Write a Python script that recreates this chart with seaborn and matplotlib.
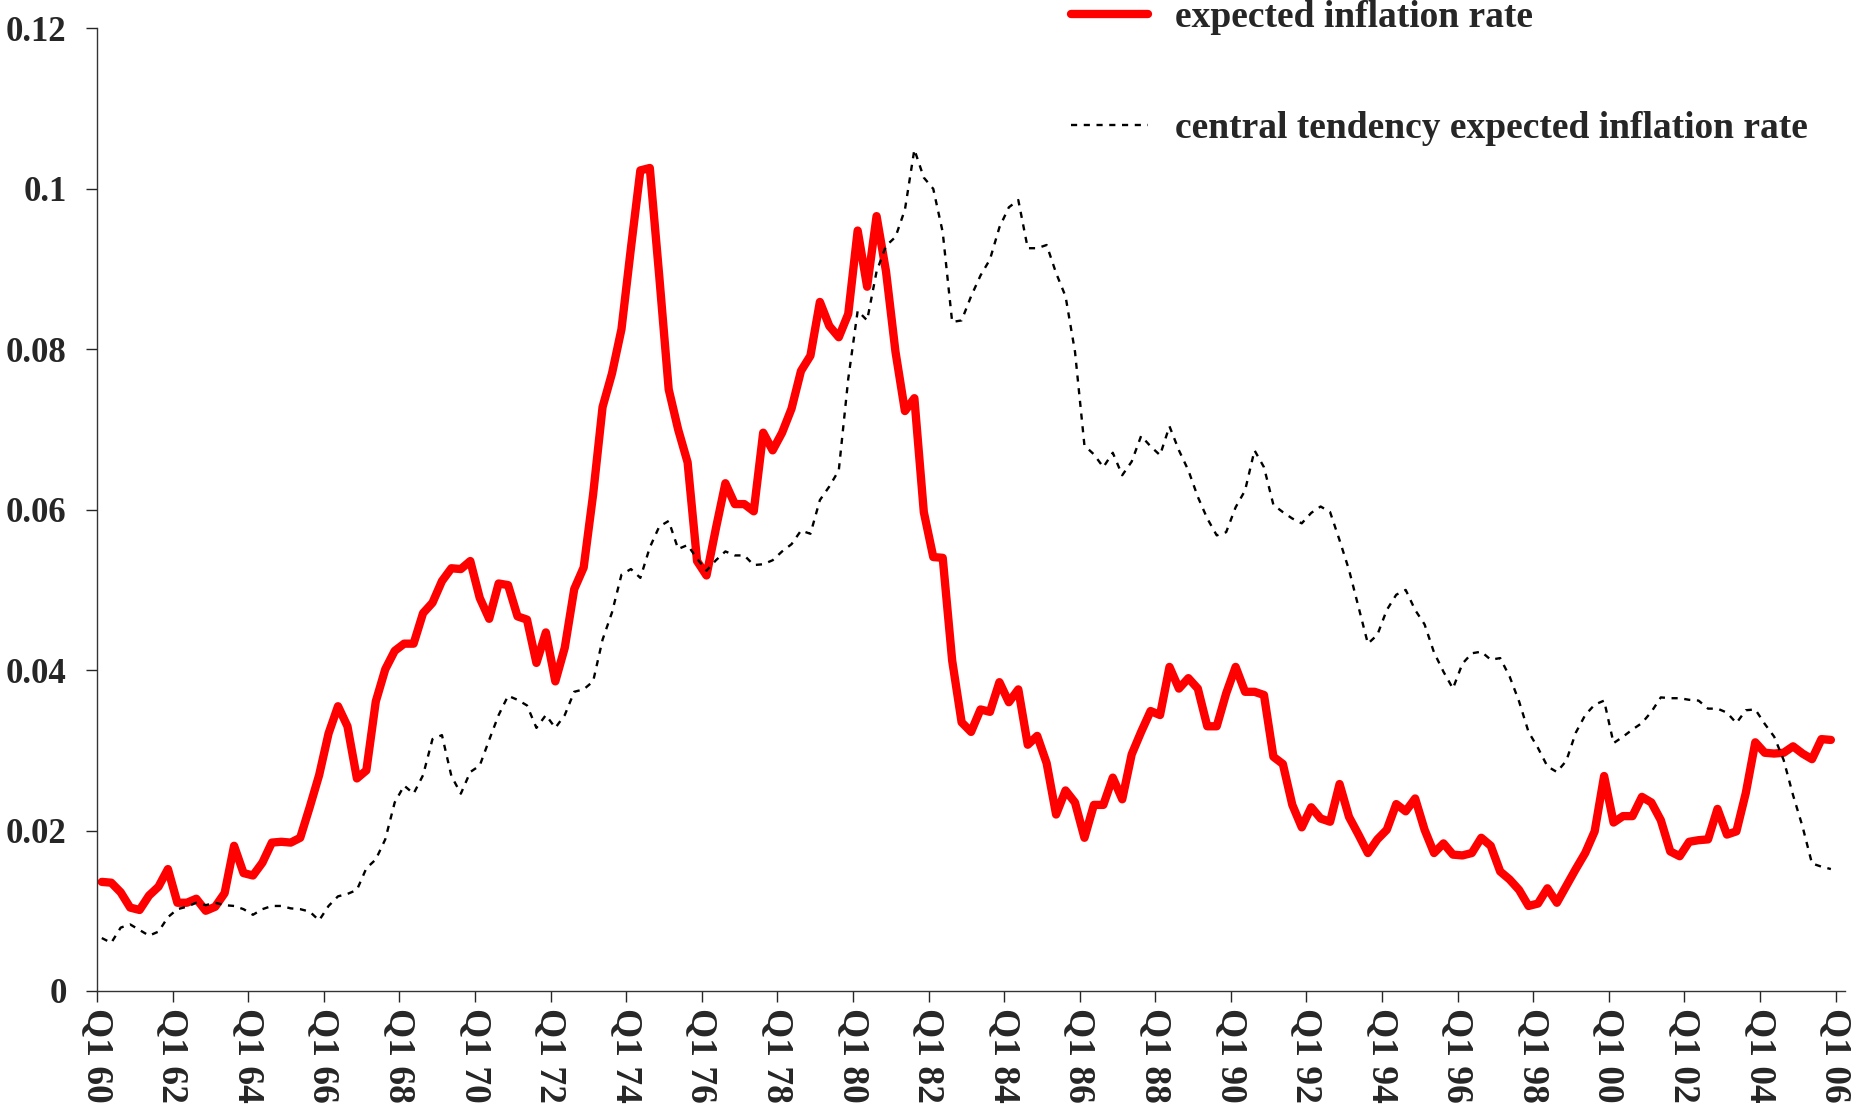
import numpy as np
import pandas as pd
import seaborn as sns
import matplotlib.pyplot as plt

# quarterly series, Q1 1960 .. Q4 2005 (one row per year)
expected = [
    0.0136, 0.0135, 0.0123, 0.0104,  # 60
    0.0101, 0.0119, 0.0130, 0.0152,  # 61
    0.0110, 0.0110, 0.0115, 0.0100,  # 62
    0.0105, 0.0122, 0.0181, 0.0147,  # 63
    0.0144, 0.0160, 0.0185, 0.0186,  # 64
    0.0185, 0.0191, 0.0229, 0.0269,  # 65
    0.0321, 0.0355, 0.0330, 0.0265,  # 66
    0.0275, 0.0361, 0.0401, 0.0424,  # 67
    0.0433, 0.0433, 0.0471, 0.0484,  # 68
    0.0511, 0.0527, 0.0526, 0.0536,  # 69
    0.0490, 0.0464, 0.0508, 0.0506,  # 70
    0.0467, 0.0463, 0.0409, 0.0447,  # 71
    0.0386, 0.0428, 0.0501, 0.0528,  # 72
    0.0619, 0.0728, 0.0770, 0.0825,  # 73
    0.0926, 0.1023, 0.1026, 0.0891,  # 74
    0.0750, 0.0700, 0.0659, 0.0536,  # 75
    0.0518, 0.0577, 0.0633, 0.0607,  # 76
    0.0607, 0.0598, 0.0696, 0.0674,  # 77
    0.0696, 0.0726, 0.0773, 0.0792,  # 78
    0.0859, 0.0829, 0.0815, 0.0844,  # 79
    0.0948, 0.0878, 0.0966, 0.0897,  # 80
    0.0797, 0.0723, 0.0739, 0.0597,  # 81
    0.0541, 0.0540, 0.0412, 0.0335,  # 82
    0.0323, 0.0351, 0.0348, 0.0385,  # 83
    0.0360, 0.0376, 0.0307, 0.0318,  # 84
    0.0284, 0.0220, 0.0250, 0.0235,  # 85
    0.0191, 0.0232, 0.0232, 0.0266,  # 86
    0.0239, 0.0295, 0.0323, 0.0349,  # 87
    0.0344, 0.0404, 0.0377, 0.0390,  # 88
    0.0377, 0.0330, 0.0330, 0.0371,  # 89
    0.0404, 0.0373, 0.0373, 0.0369,  # 90
    0.0292, 0.0283, 0.0232, 0.0204,  # 91
    0.0229, 0.0215, 0.0211, 0.0258,  # 92
    0.0217, 0.0195, 0.0172, 0.0189,  # 93
    0.0201, 0.0233, 0.0224, 0.0240,  # 94
    0.0201, 0.0172, 0.0184, 0.0170,  # 95
    0.0169, 0.0172, 0.0191, 0.0181,  # 96
    0.0149, 0.0139, 0.0126, 0.0106,  # 97
    0.0109, 0.0128, 0.0110, 0.0131,  # 98
    0.0152, 0.0172, 0.0199, 0.0268,  # 99
    0.0210, 0.0218, 0.0218, 0.0242,  # 00
    0.0235, 0.0213, 0.0174, 0.0168,  # 01
    0.0186, 0.0188, 0.0189, 0.0227,  # 02
    0.0195, 0.0199, 0.0247, 0.0310,  # 03
    0.0297, 0.0296, 0.0297, 0.0305,  # 04
    0.0296, 0.0289, 0.0314, 0.0313,  # 05
]

central = [
    0.0066, 0.0060, 0.0079, 0.0083,  # 60
    0.0076, 0.0069, 0.0074, 0.0092,  # 61
    0.0102, 0.0105, 0.0110, 0.0107,  # 62
    0.0110, 0.0107, 0.0106, 0.0102,  # 63
    0.0095, 0.0102, 0.0106, 0.0106,  # 64
    0.0103, 0.0102, 0.0099, 0.0088,  # 65
    0.0106, 0.0118, 0.0121, 0.0126,  # 66
    0.0153, 0.0164, 0.0189, 0.0235,  # 67
    0.0256, 0.0246, 0.0269, 0.0314,  # 68
    0.0319, 0.0268, 0.0246, 0.0273,  # 69
    0.0281, 0.0313, 0.0344, 0.0368,  # 70
    0.0363, 0.0356, 0.0328, 0.0344,  # 71
    0.0328, 0.0344, 0.0373, 0.0376,  # 72
    0.0386, 0.0438, 0.0472, 0.0519,  # 73
    0.0526, 0.0515, 0.0553, 0.0579,  # 74
    0.0586, 0.0551, 0.0556, 0.0539,  # 75
    0.0524, 0.0537, 0.0548, 0.0543,  # 76
    0.0543, 0.0531, 0.0532, 0.0537,  # 77
    0.0548, 0.0557, 0.0574, 0.0570,  # 78
    0.0612, 0.0629, 0.0649, 0.0763,  # 79
    0.0848, 0.0836, 0.0897, 0.0929,  # 80
    0.0940, 0.0974, 0.1049, 0.1014,  # 81
    0.1000, 0.0946, 0.0834, 0.0836,  # 82
    0.0866, 0.0892, 0.0912, 0.0952,  # 83
    0.0977, 0.0986, 0.0926, 0.0926,  # 84
    0.0930, 0.0895, 0.0866, 0.0797,  # 85
    0.0680, 0.0669, 0.0653, 0.0671,  # 86
    0.0643, 0.0660, 0.0692, 0.0679,  # 87
    0.0668, 0.0704, 0.0674, 0.0649,  # 88
    0.0616, 0.0589, 0.0568, 0.0572,  # 89
    0.0603, 0.0624, 0.0674, 0.0653,  # 90
    0.0606, 0.0597, 0.0589, 0.0583,  # 91
    0.0596, 0.0604, 0.0597, 0.0562,  # 92
    0.0525, 0.0479, 0.0433, 0.0444,  # 93
    0.0475, 0.0494, 0.0500, 0.0475,  # 94
    0.0457, 0.0422, 0.0398, 0.0377,  # 95
    0.0408, 0.0421, 0.0423, 0.0413,  # 96
    0.0415, 0.0392, 0.0361, 0.0323,  # 97
    0.0303, 0.0280, 0.0273, 0.0287,  # 98
    0.0322, 0.0344, 0.0357, 0.0362,  # 99
    0.0309, 0.0317, 0.0326, 0.0334,  # 00
    0.0348, 0.0366, 0.0365, 0.0365,  # 01
    0.0363, 0.0362, 0.0352, 0.0352,  # 02
    0.0347, 0.0334, 0.0350, 0.0351,  # 03
    0.0333, 0.0317, 0.0288, 0.0244,  # 04
    0.0205, 0.0159, 0.0155, 0.0152,  # 05
]

tick_labels = ["Q1 60", "Q1 62", "Q1 64", "Q1 66", "Q1 68", "Q1 70", "Q1 72",
               "Q1 74", "Q1 76", "Q1 78", "Q1 80", "Q1 82", "Q1 84", "Q1 86",
               "Q1 88", "Q1 90", "Q1 92", "Q1 94", "Q1 96", "Q1 98", "Q1 00",
               "Q1 02", "Q1 04", "Q1 06"]
y_ticks = [0, 0.02, 0.04, 0.06, 0.08, 0.1, 0.12]
y_labels = ["0", "0.02", "0.04", "0.06", "0.08", "0.1", "0.12"]

sns.set_style("ticks")
plt.rcParams['font.family'] = ['Liberation Serif', 'DejaVu Serif']
plt.rcParams['font.weight'] = 'bold'

# Excel-style category axis: each quarter sits in the middle of its slot
df = pd.DataFrame({'pos': np.arange(len(expected)) + 0.5,
                   'expected': expected, 'central': central})

fig = plt.figure(figsize=(18.56, 11.19), dpi=100)
ax = fig.add_axes([0.0523, 0.1144, 0.9418, 0.8602])

sns.lineplot(data=df, x='pos', y='expected', ax=ax, color='#ff0000', linewidth=6,
             solid_capstyle='round', label='expected inflation rate')
sns.lineplot(data=df, x='pos', y='central', ax=ax, color='black', linewidth=1.7,
             linestyle=(0, (2.6, 2.8)), label='central tendency expected inflation rate')

ax.set_xlim(0, 185)
ax.set_ylim(0, 0.12)
ax.set_xticks(np.arange(len(tick_labels)) * 8)
ax.set_xticklabels(tick_labels, rotation=-90, fontsize=27, fontweight='bold')
ax.set_yticks(y_ticks)
ax.set_yticklabels(y_labels, fontsize=25, fontweight='bold')
ax.set_xlabel('')
ax.set_ylabel('')
ax.tick_params(axis='x', direction='out', length=8, width=1, pad=4)
ax.tick_params(axis='y', direction='out', length=8, width=1, pad=14)
sns.despine(ax=ax)
for s in ('left', 'bottom'):
    ax.spines[s].set_linewidth(1)
    ax.spines[s].set_color('#333333')

ax.legend(loc='upper left', bbox_to_anchor=(1071 / 1856, 1.0), bbox_transform=fig.transFigure,
          frameon=False, fontsize=27, handlelength=2.05, handletextpad=0.72,
          labelspacing=2.02, borderpad=0, borderaxespad=0)

fig.savefig('out.png', dpi=100)
